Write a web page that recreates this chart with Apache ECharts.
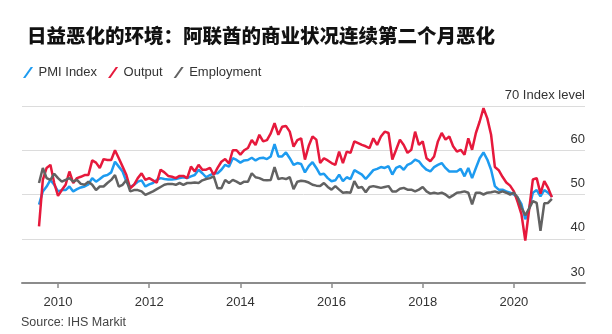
<!DOCTYPE html>
<html>
<head>
<meta charset="utf-8">
<script src="https://cdn.jsdelivr.net/npm/echarts@6/dist/echarts.min.js"></script>
<style>
html,body{margin:0;padding:0;background:#fff;}
#c{width:612px;height:334px;}
</style>
</head>
<body>
<div id="c"></div>
<script>
// Monthly data, Aug 2009 – Nov 2020
var startYear = 2009, startMonth = 8;
var pmiIndex = [47.7,50.7,51.8,53.3,52.2,50.7,51,51,51.8,50.7,51.2,51.6,51.8,52.3,53.7,52.9,53.5,54.2,54.4,55,57.4,56.3,55.2,52.9,51.7,52.2,52.9,53.2,51.8,52.3,52.6,53.3,53.7,53.5,53.4,53.4,53.5,53.7,53.9,53.7,54.1,54.4,55.6,54.8,53.9,54.4,54.8,54.8,55.6,56.7,56.3,58.2,57.8,57.2,57.7,57.8,58.3,57.7,58.2,58.3,58,58.6,61.4,58.6,58.6,59.5,58.2,56.7,57.1,56.9,55,56.4,57.3,56,54.5,54.7,53.7,53,53.2,54.5,53,53.9,53.5,55.5,55,54.5,53.5,54.5,55.5,55.8,56.2,56,56.4,54.5,56,56.4,55.6,56.7,57.1,57.9,57.5,56.4,55.6,55.2,56.2,56.7,57.1,56,55.2,55.2,55.2,55.8,54.1,56,53.7,56,58.2,59.5,57.9,55.6,51.9,51.1,51.1,50.7,50.4,50,49.3,47.8,44.4,46.8,50.4,51,49.6,51,50.4,49.5];
var output = [42.8,53.3,56,56.7,52.6,49.7,51,52.2,55.2,52.6,53.7,54,54.4,54.4,57.7,57.2,56,58,57.8,57.8,60,58.2,56.3,54.4,51.4,52.2,53.7,54.8,53.3,53.7,53.2,52.7,55.6,55,54.2,54,53.7,54.2,54.2,53.7,56.3,55.2,56.7,55.6,55.6,56,54.4,56,57.4,58,57,60,60,59,60,60.5,62.3,61.2,63.5,62,62.3,63.8,66.1,63.5,65.3,65.5,64.2,60.8,62.3,62.7,57.9,61,63.1,62.4,57.1,58.2,57.7,57.1,56.7,59.7,57.1,59.7,59.4,62,61.6,61.2,60.9,60.5,62.7,61.2,63.1,64.2,63.9,57.9,60.1,62.4,61.2,59.4,60.1,64.2,61.2,62,58.2,57.5,58.6,62,63.9,62.4,63.1,60.9,59.7,60.1,59,62.7,60.1,63.9,66.5,69.5,67.2,63.5,56.2,55.5,54,52.7,52,50.7,48.3,45.5,39.6,46.5,53.4,53.7,50.2,53,51.5,49.4];
var employment = [52.6,56,53.7,53.3,54.7,53.7,52.9,53.3,53.7,52.9,53.3,52.4,52.2,52.9,52.2,51,51.8,51.8,52.6,53.3,54.4,51.8,52.2,53.3,50.7,51,51,50.7,49.9,50.3,50.7,51.2,51.7,52.2,52.4,52.4,52.2,52.6,52.2,52.6,52.6,52.7,52.6,53.2,53.5,53.7,54.1,51.4,51.4,53.3,52.6,53.3,52.9,52.4,52.9,52.9,54.8,53.9,53.7,53.3,53.2,53.3,56.2,53.5,53.7,53.5,53.9,51.2,52.9,53.1,53,52.7,52.2,52,51.9,52.6,51.7,51.1,51.9,51.1,50.4,50.5,50.4,53,51.5,51.7,50.5,51.7,51.9,51.7,51.5,51.7,51.9,50.7,50.7,51.3,51.5,51.1,51.1,50.7,51.1,51.7,50.7,50.2,50.4,50.2,50.4,50,49.3,49.8,50.4,50.5,50.7,50.4,47.8,50.4,50.4,50,50.4,50.5,50.7,50.4,50.7,50.4,50,50.4,49.3,47,45.3,46.8,48.5,48.1,41.8,48,48.1,49];
var yearTicks = [2010, 2012, 2014, 2016, 2018, 2020];

// month positions as fractional years
var months = [];
for (var i = 0; i < pmiIndex.length; i++) {
  var m = startMonth - 1 + i;
  months.push(startYear + Math.floor(m / 12) + (m % 12) / 12);
}
function pairs(arr) { return arr.map(function (v, i) { return [months[i], v]; }); }

var font = 'Liberation Sans, Arial, sans-serif';
var slash = 'path://M0,12L2.6,12L11,0L8.4,0Z';

var chart = echarts.init(document.getElementById('c'), null, {renderer: 'canvas'});
chart.setOption({
  animation: false,
  backgroundColor: '#ffffff',
  title: {
    text: '日益恶化的环境：阿联酋的商业状况连续第二个月恶化',
    left: 27, top: 26, padding: 0,
    textStyle: {fontFamily: 'Noto Sans CJK SC', fontWeight: 900, fontSize: 19.5, color: '#111'}
  },
  legend: {
    left: 23, top: 66, padding: 0,
    itemWidth: 11, itemHeight: 11, itemGap: 11,
    icon: slash,
    textStyle: {fontFamily: font, fontSize: 13, color: '#333'},
    data: ['PMI Index', 'Output', 'Employment']
  },
  grid: {left: 22, right: 27, top: 106, bottom: 51, containLabel: false},
  xAxis: {
    type: 'value', min: 2009.21, max: 2021.56,
    axisLine: {show: true, lineStyle: {color: '#8c8c8c', width: 2}},
    axisTick: {show: true, customValues: yearTicks, length: 5, lineStyle: {color: '#8c8c8c', width: 1.5}},
    axisLabel: {customValues: yearTicks, margin: 13, fontFamily: font, fontSize: 13, color: '#333',
      formatter: function (v) { return String(v); }},
    splitLine: {show: false}
  },
  yAxis: {
    type: 'value', position: 'right', min: 30, max: 70, interval: 10,
    axisLine: {show: false}, axisTick: {show: false},
    axisLabel: {inside: true, margin: 0, fontFamily: font, fontSize: 13, color: '#333',
      verticalAlign: 'bottom', lineHeight: 22,
      formatter: function (v) { return v === 70 ? '70 Index level' : String(v); }},
    splitLine: {show: true, lineStyle: {color: '#dcdcdc', width: 1}}
  },
  series: [
    {name: 'PMI Index', type: 'line', data: pairs(pmiIndex), showSymbol: false, symbol: 'none',
      lineStyle: {color: '#1d9bf0', width: 2.5}, itemStyle: {color: '#1d9bf0'}},
    {name: 'Output', type: 'line', data: pairs(output), showSymbol: false, symbol: 'none',
      lineStyle: {color: '#e6193c', width: 2.5}, itemStyle: {color: '#e6193c'}},
    {name: 'Employment', type: 'line', data: pairs(employment), showSymbol: false, symbol: 'none',
      lineStyle: {color: '#626262', width: 2.5}, itemStyle: {color: '#626262'}}
  ],
  graphic: [{
    type: 'text', left: 21, top: 316,
    style: {text: 'Source: IHS Markit', fontFamily: font, fontSize: 12.5, fill: '#444'}
  }]
});
</script>
</body>
</html>
